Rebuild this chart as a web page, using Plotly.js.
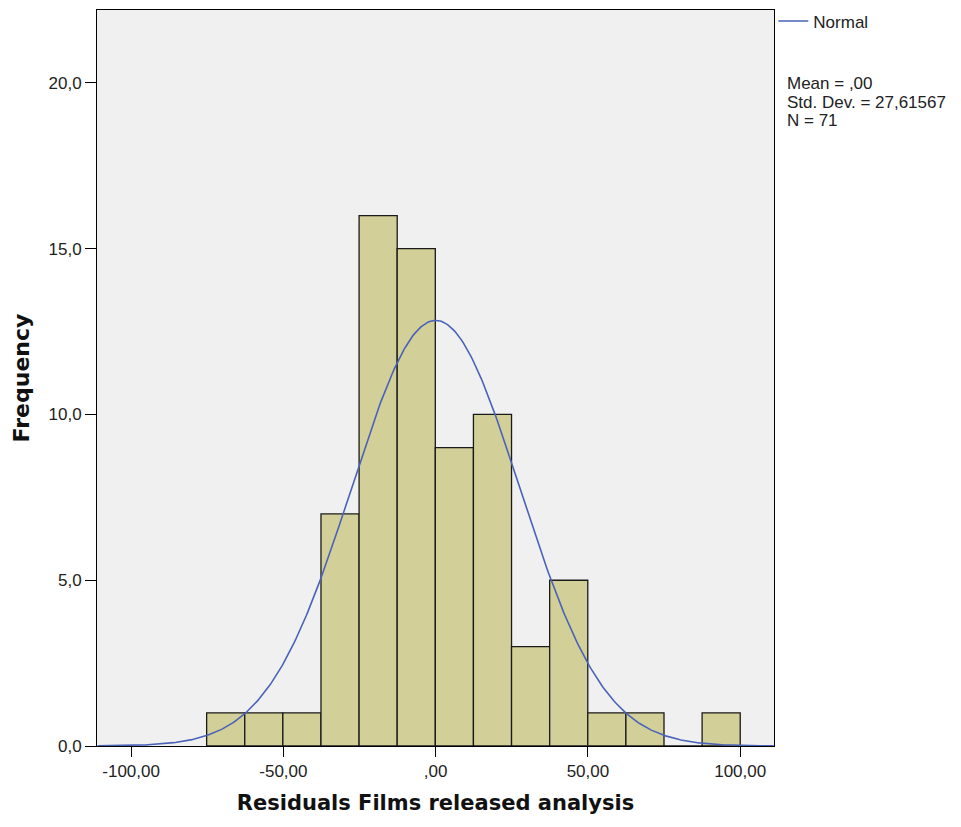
<!DOCTYPE html>
<html>
<head>
<meta charset="utf-8">
<script src="https://cdn.plot.ly/plotly-3.0.1.min.js"></script>
<style>html,body{margin:0;padding:0;background:#fff;}#chart{width:961px;height:827px;}</style>
</head>
<body>
<div id="chart"></div>
<script>
// Histogram data
const binStart = -75.2;
const binWidth = 12.515;
const counts = [1, 1, 1, 7, 16, 15, 9, 10, 3, 5, 1, 1, 0, 1];

// Summary statistics shown on the chart
const meanVal = 0.0;
const stdDev = 27.61567;
const nObs = 71;
const statLines = ["Mean = ,00", "Std. Dev. = 27,61567", "N = 71"];

// Tick labels
const xTickVals = [-100, -50, 0, 50, 100];
const xTickText = ["-100,00", "-50,00", ",00", "50,00", "100,00"];
const yTickVals = [0, 5, 10, 15, 20];
const yTickText = ["0,0", "5,0", "10,0", "15,0", "20,0"];

const binCenters = counts.map((c, i) => binStart + binWidth * (i + 0.5));

// Fitted normal curve scaled to counts (from mean, std dev, N, bin width)
const curveX = [], curveY = [];
for (let x = -111; x <= 111; x += 0.5) {
  curveX.push(x);
  const z = (x - meanVal) / stdDev;
  curveY.push(nObs * binWidth * Math.exp(-0.5 * z * z) / (stdDev * Math.sqrt(2 * Math.PI)));
}

const font = "Liberation Sans, Arial, sans-serif";
const boldFont = "DejaVu Sans, Verdana, sans-serif";

const traces = [
  {
    type: "bar",
    x: binCenters,
    y: counts,
    width: binWidth,
    marker: {color: "#d3cf98", line: {color: "#1a1a1a", width: 1.3}},
    showlegend: false,
    hoverinfo: "x+y"
  },
  {
    type: "scatter",
    mode: "lines",
    x: curveX,
    y: curveY,
    name: "Normal",
    line: {color: "#4a63b8", width: 1.6},
    showlegend: true
  }
];

const statAnnotations = statLines.map((t, i) => ({
  xref: "paper", yref: "paper",
  x: 1.0165, y: (746 - (84 + i * 18.5)) / 736,
  xanchor: "left", yanchor: "middle",
  align: "left", showarrow: false,
  text: t,
  font: {family: font, size: 17, color: "#222"}
}));

const layout = {
  width: 961,
  height: 827,
  margin: {l: 97, r: 187, t: 10, b: 81, autoexpand: false},
  paper_bgcolor: "#ffffff",
  plot_bgcolor: "#f0f0f0",
  font: {family: font, size: 17, color: "#222"},
  bargap: 0,
  xaxis: {
    range: [-111.2, 111.1],
    tickvals: xTickVals,
    ticktext: xTickText,
    ticks: "outside",
    ticklen: 10,
    tickcolor: "#000",
    showline: true,
    linecolor: "#000",
    linewidth: 1,
    mirror: true,
    showgrid: false,
    zeroline: false,
    tickfont: {family: font, size: 17, color: "#222"},
    title: {text: "Residuals Films released analysis", font: {family: boldFont, size: 21, color: "#111", weight: "bold"}, standoff: 14}
  },
  yaxis: {
    range: [0, 22.2],
    tickvals: yTickVals,
    ticktext: yTickText,
    ticks: "outside",
    ticklen: 11,
    tickcolor: "#000",
    showline: true,
    linecolor: "#000",
    linewidth: 1,
    mirror: true,
    showgrid: false,
    zeroline: false,
    tickfont: {family: font, size: 17, color: "#222"},
    title: {text: "Frequency", font: {family: boldFont, size: 22, color: "#111", weight: "bold"}, standoff: 12}
  },
  showlegend: true,
  legend: {
    x: 0.999, y: 1.009, xanchor: "left", yanchor: "top",
    bgcolor: "rgba(0,0,0,0)",
    font: {family: font, size: 17, color: "#222"},
    itemwidth: 30,
    tracegroupgap: 0
  },
  annotations: statAnnotations
};

Plotly.newPlot("chart", traces, layout, {displayModeBar: false, staticPlot: true});
</script>
</body>
</html>
